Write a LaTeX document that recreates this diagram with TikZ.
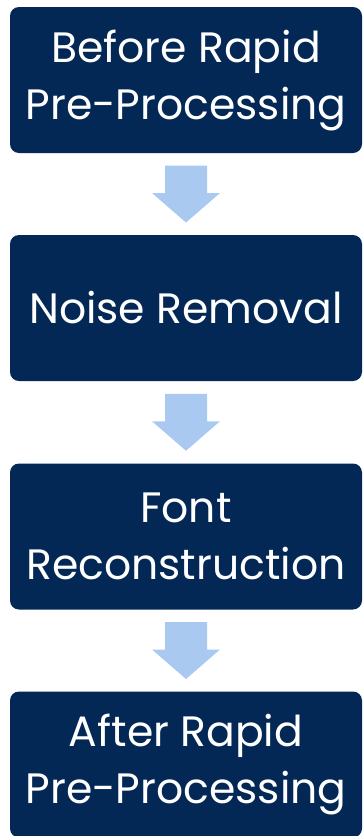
\documentclass[tikz,border=0pt]{standalone}
\usepackage{fontspec}
\setmainfont{Poppins}
\usetikzlibrary{calc}
\definecolor{navy}{RGB}{3,40,86}
\definecolor{paleblue}{RGB}{169,201,241}
\tikzset{
  stage/.style={fill=navy, rounded corners=9pt, minimum width=352pt, minimum height=146pt,
    inner sep=0pt, text=white, align=center, font=\fontsize{42.5}{57}\selectfont},
  arrowfill/.style={fill=paleblue, draw=none}
}
% downward block arrow centred between two stacked boxes
\newcommand\blockarrow[2]{%
  \path (#1.south) -- coordinate (mid#1) (#2.north);
  \fill[arrowfill] ($(mid#1)+(-21,-28.5)$) -- ($(mid#1)+(21,-28.5)$) -- ($(mid#1)+(21,-1)$)
    -- ($(mid#1)+(34,-1)$) -- ($(mid#1)+(0,28.5)$) -- ($(mid#1)+(-34,-1)$)
    -- ($(mid#1)+(-21,-1)$) -- cycle;}
\begin{document}
\begin{tikzpicture}[x=1pt,y=-1pt]
  \useasboundingbox (0,0) rectangle (362,836);
  \node[stage] (b1) at (186,80) {Before Rapid\\Pre-Processing};
  \node[stage] (b2) at (186,308) {Noise Removal};
  \node[stage] (b3) at (186,536.5) {Font\\Reconstruction};
  \node[stage] (b4) at (186,764.5) {After Rapid\\Pre-Processing};
  \blockarrow{b1}{b2}
  \blockarrow{b2}{b3}
  \blockarrow{b3}{b4}
\end{tikzpicture}
\end{document}
